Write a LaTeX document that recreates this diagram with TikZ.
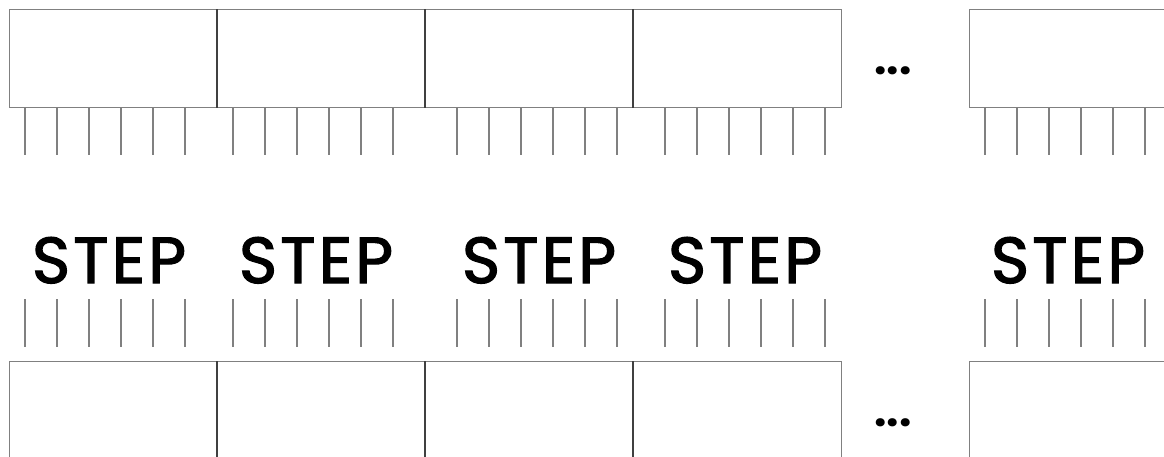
\documentclass[tikz,border=0pt]{standalone}
\usepackage{fontspec}
\setmainfont{Poppins}
\newfontfamily\stepfont[FakeBold=2,LetterSpace=5]{Poppins}
\begin{document}
\begin{tikzpicture}[x=1pt,y=-1pt,line cap=butt,
  cell/.style={draw=black!50,line width=1.3pt,minimum width=208pt,minimum height=98pt,inner sep=0pt,anchor=north west},
  divider/.style={draw=black!75,line width=1.4pt},
  lead/.style={draw=black!50,line width=1.3pt},
  steplabel/.style={font=\fontsize{65}{70}\stepfont,anchor=base,inner sep=0pt},
  dotslabel/.style={font=\fontsize{44}{48}\selectfont\bfseries,anchor=base,inner sep=0pt}]
\useasboundingbox (0,0) rectangle (1164,456);
\clip (0,0) rectangle (1164,456);

% ---- top row of cells ----
\foreach \i/\x in {1/9,2/217,3/425,4/633,5/969}
  \node[cell] (t\i) at (\x,9) {};
\foreach \i in {2,3,4}
  \draw[divider] (t\i.north west) -- (t\i.south west);
\node[dotslabel] (dtop) at (893,74) {...};

% leads under the top cells
\foreach \s in {25,233,457,665,985}
  \foreach \k in {0,...,5}
    \draw[lead] ({\s+32*\k},107) -- ++(0,48);

% ---- STEP labels ----
\foreach \i/\c in {1/109,2/316,3/539,4/745,5/1068}
  \node[steplabel] (s\i) at (\c,283) {STEP};

% leads above the bottom cells
\foreach \s in {25,233,457,665,985}
  \foreach \k in {0,...,5}
    \draw[lead] ({\s+32*\k},299) -- ++(0,48);

% ---- bottom row of cells ----
\foreach \i/\x in {1/9,2/217,3/425,4/633,5/969}
  \node[cell,minimum height=120pt] (b\i) at (\x,361) {};
\foreach \i in {2,3,4}
  \draw[divider] (b\i.north west) -- (b\i.south west);
\node[dotslabel] (dbot) at (893,426) {...};
\end{tikzpicture}
\end{document}
